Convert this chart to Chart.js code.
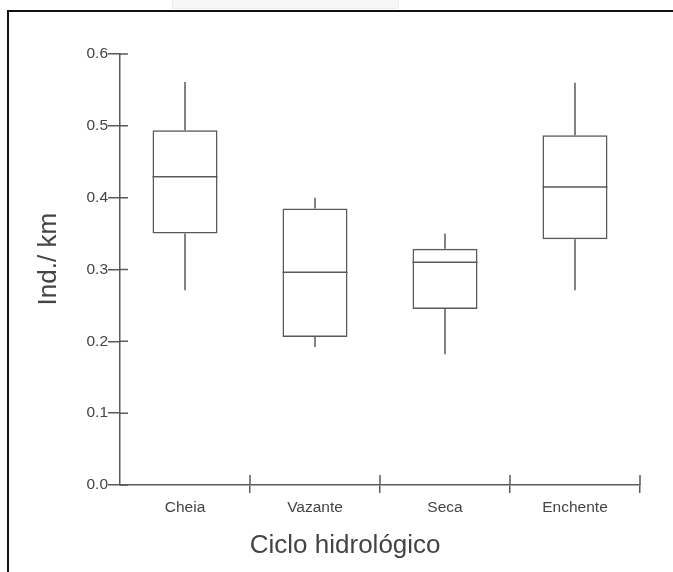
<!DOCTYPE html>
<html>
<head>
<meta charset="utf-8">
<title>Ind./ km por ciclo hidrológico</title>
<script src="https://cdn.jsdelivr.net/npm/chart.js@4.4.1/dist/chart.umd.min.js"></script>
<style>
  html, body { margin: 0; padding: 0; background: #fff; overflow: hidden; }
  #wrap { position: relative; width: 673px; height: 572px; }
  #frame {
    position: absolute; left: 7px; top: 10px; width: 700px; height: 600px;
    border-top: 2px solid #111; border-left: 2px solid #111; pointer-events: none;
  }
  #tab {
    position: absolute; left: 172px; top: 0; width: 225px; height: 8px;
    background: #f7f7f7; border: 1px solid #ededed; border-top: none;
    border-bottom-right-radius: 3px;
  }
  canvas { position: absolute; left: 0; top: 0; }
</style>
</head>
<body>
<div id="wrap">
  <div id="tab"></div>
  <canvas id="chart" width="673" height="572"></canvas>
  <div id="frame"></div>
</div>
<script>
// Hydrological cycle phases
const categories = ['Cheia', 'Vazante', 'Seca', 'Enchente'];

// Box-plot statistics (individuals per km)
const whiskerMin = [0.271, 0.192, 0.182, 0.271];
const quartile1  = [0.350, 0.206, 0.245, 0.342];
const medians    = [0.429, 0.296, 0.310, 0.415];
const quartile3  = [0.494, 0.385, 0.329, 0.487];
const whiskerMax = [0.561, 0.400, 0.350, 0.560];

// Y axis ticks
const yTicks = [0.0, 0.1, 0.2, 0.3, 0.4, 0.5, 0.6];

const xTitle = 'Ciclo hidrológico';
const yTitle = 'Ind./ km';

const LINE = '#5a5a5a';
const TEXT = '#444';
const FONT = "'Liberation Sans', Arial, sans-serif";

// Medians, whiskers, inner tick halves and axis titles
const boxExtras = {
  id: 'boxExtras',
  afterDatasetsDraw(chart) {
    const ctx = chart.ctx;
    const y = chart.scales.y;
    const meta = chart.getDatasetMeta(0);
    ctx.save();
    ctx.strokeStyle = LINE;
    ctx.lineWidth = 1.5;
    meta.data.forEach((bar, i) => {
      const half = bar.width / 2;
      ctx.beginPath();
      ctx.moveTo(bar.x - half, y.getPixelForValue(medians[i]));
      ctx.lineTo(bar.x + half, y.getPixelForValue(medians[i]));
      ctx.moveTo(bar.x, y.getPixelForValue(quartile3[i]));
      ctx.lineTo(bar.x, y.getPixelForValue(whiskerMax[i]));
      ctx.moveTo(bar.x, y.getPixelForValue(quartile1[i]));
      ctx.lineTo(bar.x, y.getPixelForValue(whiskerMin[i]));
      ctx.stroke();
    });
    ctx.restore();
  },
  afterDraw(chart) {
    const ctx = chart.ctx;
    const area = chart.chartArea;
    const x = chart.scales.x;
    const y = chart.scales.y;
    ctx.save();
    ctx.strokeStyle = LINE;
    ctx.lineWidth = 1.5;
    ctx.beginPath();
    // y ticks cross the axis into the plot
    y.ticks.forEach((t, i) => {
      const py = y.getPixelForTick(i);
      ctx.moveTo(area.left, py);
      ctx.lineTo(area.left + 8, py);
    });
    // x ticks at category boundaries also rise above the axis
    const step = x.getPixelForValue(1) - x.getPixelForValue(0);
    categories.forEach((c, i) => {
      const px = x.getPixelForValue(i) + step / 2;
      ctx.moveTo(px, area.bottom);
      ctx.lineTo(px, area.bottom - 10);
    });
    ctx.stroke();

    ctx.fillStyle = TEXT;
    ctx.font = '26px ' + FONT;
    ctx.textAlign = 'center';
    ctx.textBaseline = 'middle';
    ctx.fillText(xTitle, area.left + area.width * 0.433, area.bottom + 61);
    ctx.translate(49, area.top + area.height * 0.476);
    ctx.rotate(-Math.PI / 2);
    ctx.fillText(yTitle, 0, 0);
    ctx.restore();
  }
};

new Chart(document.getElementById('chart'), {
  type: 'bar',
  data: {
    labels: categories,
    datasets: [{
      data: categories.map((c, i) => [quartile1[i], quartile3[i]]),
      backgroundColor: 'rgba(255,255,255,0)',
      borderColor: LINE,
      borderWidth: 1.5,
      borderSkipped: false,
      barPercentage: 0.5,
      categoryPercentage: 1.0
    }]
  },
  options: {
    responsive: false,
    animation: false,
    layout: { padding: { left: 0, right: 33, top: 54, bottom: 0 } },
    plugins: { legend: { display: false }, tooltip: { enabled: false } },
    scales: {
      x: {
        offset: true,
        grid: {
          offset: true,
          drawOnChartArea: false,
          drawTicks: true,
          tickLength: 8,
          lineWidth: 1.5,
          color: (c) => c.index === 0 ? 'rgba(0,0,0,0)' : LINE
        },
        border: { display: true, color: LINE, width: 1.5 },
        ticks: { color: TEXT, font: { family: FONT, size: 15.5 }, padding: 5 },
        afterFit(scale) { scale.height = 87; }
      },
      y: {
        min: 0,
        max: 0.6,
        afterBuildTicks(scale) { scale.ticks = yTicks.map(v => ({ value: v })); },
        grid: {
          drawOnChartArea: false,
          drawTicks: true,
          tickLength: 12,
          lineWidth: 1.5,
          color: LINE
        },
        border: { display: true, color: LINE, width: 1.5 },
        ticks: {
          color: TEXT,
          font: { family: FONT, size: 15.5 },
          padding: 0,
          callback: (v) => Number(v).toFixed(1)
        },
        afterFit(scale) { scale.width = 120; }
      }
    }
  },
  plugins: [boxExtras]
});
</script>
</body>
</html>
